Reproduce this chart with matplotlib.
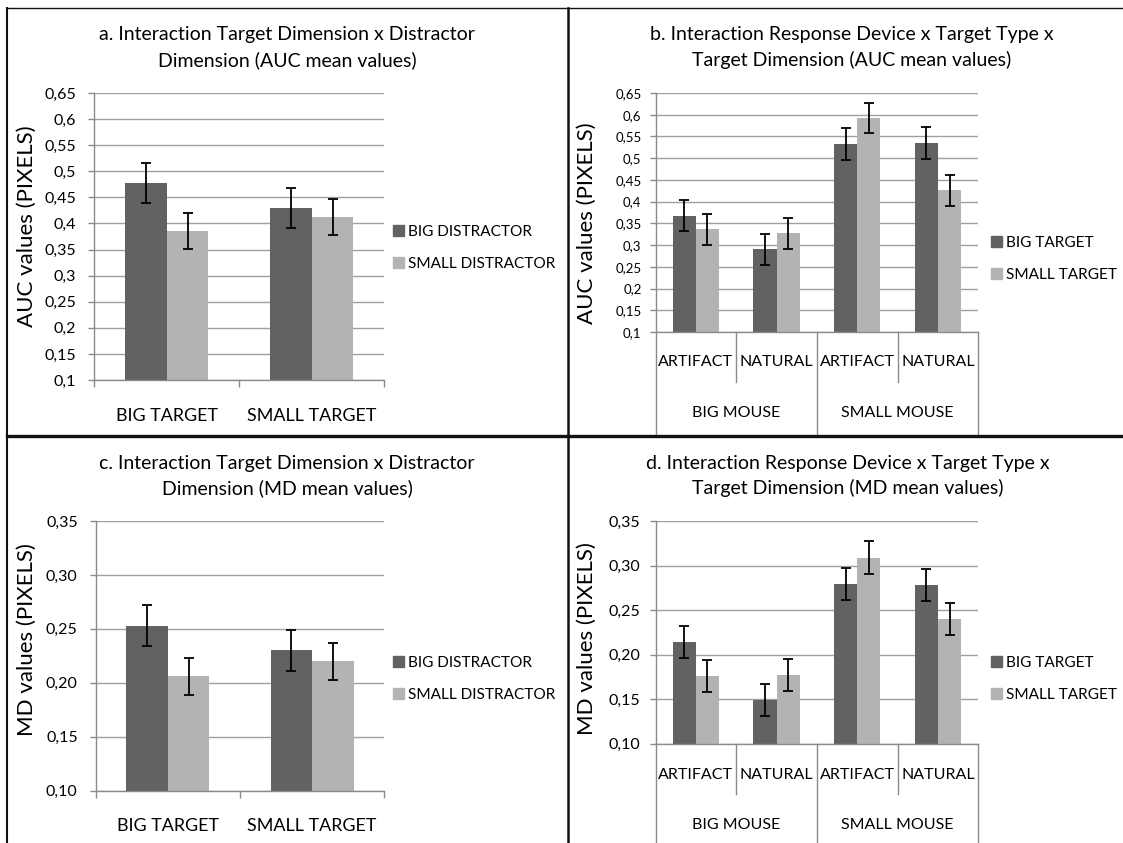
import numpy as np
import matplotlib
matplotlib.use("Agg")
import matplotlib.pyplot as plt
import matplotlib.transforms as mtransforms
from matplotlib.lines import Line2D

plt.rcParams['font.family'] = ['Lato', 'DejaVu Sans']

W, H, DPI = 1123, 843, 100

# ---- data -------------------------------------------------------------
target_cats = ["BIG TARGET", "SMALL TARGET"]
distractor_names = ["BIG DISTRACTOR", "SMALL DISTRACTOR"]

auc_big_distr = [0.477, 0.430]
auc_big_distr_err = [0.038, 0.038]
auc_small_distr = [0.386, 0.412]
auc_small_distr_err = [0.034, 0.034]

md_big_distr = [0.253, 0.230]
md_big_distr_err = [0.019, 0.019]
md_small_distr = [0.206, 0.220]
md_small_distr_err = [0.017, 0.017]

type_cats = ["ARTIFACT", "NATURAL", "ARTIFACT", "NATURAL"]
mouse_cats = ["BIG MOUSE", "SMALL MOUSE"]
size_names = ["BIG TARGET", "SMALL TARGET"]

auc_big_target = [0.368, 0.290, 0.532, 0.534]
auc_big_target_err = [0.036, 0.036, 0.037, 0.037]
auc_small_target = [0.336, 0.327, 0.592, 0.426]
auc_small_target_err = [0.035, 0.036, 0.035, 0.036]

md_big_target = [0.214, 0.149, 0.279, 0.278]
md_big_target_err = [0.018, 0.018, 0.018, 0.018]
md_small_target = [0.176, 0.177, 0.309, 0.240]
md_small_target_err = [0.018, 0.018, 0.018, 0.018]

auc_ticks = [0.1, 0.15, 0.2, 0.25, 0.3, 0.35, 0.4, 0.45, 0.5, 0.55, 0.6, 0.65]
auc_ticklabels = ["0,1", "0,15", "0,2", "0,25", "0,3", "0,35", "0,4", "0,45",
                  "0,5", "0,55", "0,6", "0,65"]
md_ticks = [0.10, 0.15, 0.20, 0.25, 0.30, 0.35]
md_ticklabels = ["0,10", "0,15", "0,20", "0,25", "0,30", "0,35"]

titles = [
    "a. Interaction Target Dimension x Distractor\nDimension (AUC mean values)",
    "b. Interaction Response Device x Target Type x\nTarget Dimension (AUC mean values)",
    "c. Interaction Target Dimension x Distractor\nDimension (MD mean values)",
    "d. Interaction Response Device x Target Type x\nTarget Dimension (MD mean values)",
]

# ---- style ------------------------------------------------------------
DARK = "#626262"
LIGHT = "#b3b3b3"
GRID = "#a0a0a0"
AXIS = "#8a8a8a"
BAR_W = 0.287
TITLE_FS = 14
YLABEL_FS = 16
LEGEND_FS = 11.1

fig = plt.figure(figsize=(W / DPI, H / DPI), dpi=DPI)


def fx(px):
    return px / W


def fy(py):
    return 1 - py / H


def add_axes(l, t, r, b):
    return fig.add_axes([fx(l), fy(b), fx(r - l), (b - t) / H])


def style_axes(ax, ticks, labels, tick_size, pad):
    ax.set_ylim(ticks[0], ticks[-1])
    ax.set_yticks(ticks, labels)
    ax.yaxis.grid(True, color=GRID, lw=1.0)
    ax.set_axisbelow(True)
    for s in ("top", "right"):
        ax.spines[s].set_visible(False)
    for s in ("left", "bottom"):
        ax.spines[s].set_color(AXIS)
        ax.spines[s].set_linewidth(1.0)
    ax.tick_params(axis="y", length=4, width=1, color=AXIS,
                   labelsize=tick_size, pad=pad)


def draw_bars(ax, v1, e1, v2, e2):
    x = np.arange(len(v1))
    ax.bar(x - BAR_W / 2, v1, BAR_W, color=DARK, zorder=2)
    ax.bar(x + BAR_W / 2, v2, BAR_W, color=LIGHT, zorder=2)
    for xs, v, e in ((x - BAR_W / 2, v1, e1), (x + BAR_W / 2, v2, e2)):
        ax.errorbar(xs, v, yerr=e, fmt="none", ecolor="black",
                    elinewidth=1.3, capsize=3.4, capthick=1.3, zorder=3)
    ax.set_xlim(-0.5, len(v1) - 0.5)


def draw_legend(ax, names, left_px, cy_px):
    handles = [plt.Rectangle((0, 0), 1, 1, color=c) for c in (DARK, LIGHT)]
    ax.legend(handles, names, loc="center left",
              bbox_to_anchor=(fx(left_px), fy(cy_px)),
              bbox_transform=fig.transFigure, frameon=False,
              fontsize=LEGEND_FS, handlelength=0.7, handleheight=0.7,
              handletextpad=0.3, labelspacing=1.2,
              borderpad=0, borderaxespad=0)


def simple_xaxis(ax, cats):
    ax.set_xticks(range(len(cats)), cats)
    ax.set_xticks([-0.5, 0.5, 1.5], minor=True)
    ax.tick_params(axis="x", which="major", length=0, labelsize=12.9, pad=20)
    ax.tick_params(axis="x", which="minor", length=5, width=1, color=AXIS)


def table_xaxis(ax, y_axis, y_row1, y_inner_end, y_row2, y_outer_end):
    ax.set_xticks([])
    tr = mtransforms.blended_transform_factory(ax.transData, fig.transFigure)
    for xb in (-0.5, 0.5, 1.5, 2.5, 3.5):
        end = y_outer_end if xb in (-0.5, 1.5, 3.5) else y_inner_end
        ax.add_line(Line2D([xb, xb], [fy(y_axis), fy(end)], transform=tr,
                           color=AXIS, lw=1.0, clip_on=False))
    for i, lab in enumerate(type_cats):
        ax.text(i, fy(y_row1), lab, transform=tr, ha="center", va="center",
                fontsize=11.5)
    for i, lab in enumerate(mouse_cats):
        ax.text(2 * i + 0.5, fy(y_row2), lab, transform=tr, ha="center",
                va="center", fontsize=11.5)


def panel_text(cx, title_y, ylabel_x, ylabel_y, title, ylabel):
    fig.text(fx(ylabel_x), fy(ylabel_y), ylabel, rotation=90,
             ha="center", va="center", fontsize=YLABEL_FS)
    fig.text(fx(cx), fy(title_y), title, ha="center", va="center",
             fontsize=TITLE_FS, linespacing=1.5)


# a. AUC, target x distractor
ax_a = add_axes(94.3, 93, 384.3, 380)
style_axes(ax_a, auc_ticks, auc_ticklabels, 11.5, 9)
draw_bars(ax_a, auc_big_distr, auc_big_distr_err, auc_small_distr, auc_small_distr_err)
simple_xaxis(ax_a, target_cats)
draw_legend(ax_a, distractor_names, 393, 248)
panel_text(287, 47.5, 27, 226, titles[0], "AUC values (PIXELS)")

# b. AUC, device x type x dimension
ax_b = add_axes(655.5, 93, 978.3, 332)
style_axes(ax_b, auc_ticks, auc_ticklabels, 9.5, 6)
draw_bars(ax_b, auc_big_target, auc_big_target_err, auc_small_target, auc_small_target_err)
table_xaxis(ax_b, 332, 362, 382, 413, 436)
draw_legend(ax_b, size_names, 991, 259)
panel_text(852, 47.5, 587, 223.5, titles[1], "AUC values (PIXELS)")

# c. MD, target x distractor
ax_c = add_axes(95.7, 521, 384.3, 790.7)
style_axes(ax_c, md_ticks, md_ticklabels, 11.5, 9)
draw_bars(ax_c, md_big_distr, md_big_distr_err, md_small_distr, md_small_distr_err)
simple_xaxis(ax_c, target_cats)
draw_legend(ax_c, distractor_names, 393, 679)
panel_text(287, 476, 27, 640, titles[2], "MD values (PIXELS)")

# d. MD, device x type x dimension
ax_d = add_axes(655.5, 521, 978.3, 743.7)
style_axes(ax_d, md_ticks, md_ticklabels, 11.5, 7)
draw_bars(ax_d, md_big_target, md_big_target_err, md_small_target, md_small_target_err)
table_xaxis(ax_d, 743.7, 775.3, 794, 825, 843)
draw_legend(ax_d, size_names, 991, 679)
panel_text(848, 476, 587, 639, titles[3], "MD values (PIXELS)")

# panel frame lines
for xs, ys, lw in (([7, W], [8, 8], 1.0),
                   ([7, 7], [8, H], 1.5),
                   ([568, 568], [8, H], 1.8),
                   ([7, W], [436, 436], 2.4)):
    fig.add_artist(Line2D([fx(v) for v in xs], [fy(v) for v in ys],
                          transform=fig.transFigure, color="#111111", lw=lw))

fig.savefig("out.png", dpi=DPI)
